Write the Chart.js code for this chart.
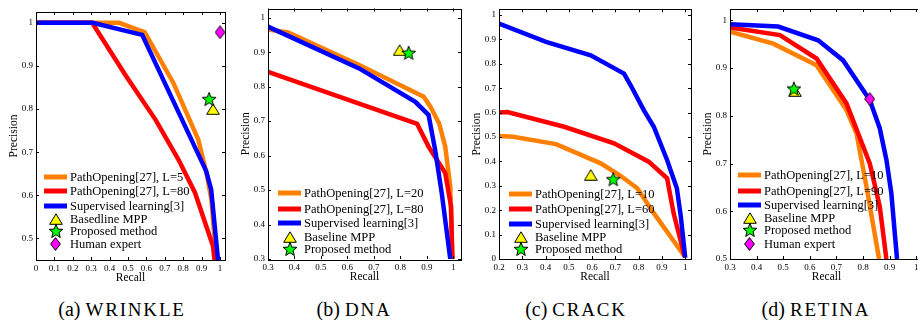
<!DOCTYPE html>
<html>
<head>
<meta charset="utf-8">
<script src="https://cdn.jsdelivr.net/npm/chart.js@4.4.1/dist/chart.umd.min.js"></script>
<style>
  html, body { margin: 0; padding: 0; background: #fff; }
  body { width: 918px; height: 320px; overflow: hidden; position: relative; }
  canvas { position: absolute; top: 0; }
  .cap { position: absolute; top: 299px; font-family: "Liberation Serif", serif; font-size: 20px;
         line-height: 1; white-space: nowrap; transform: translateX(-50%); color: #000; }
  .cap span { font-size: 19px; letter-spacing: 1.8px; }
</style>
</head>
<body>
<div class="cap" style="left:122px">(a) <span>WRINKLE</span></div>
<div class="cap" style="left:354px">(b) <span>DNA</span></div>
<div class="cap" style="left:576px">(c) <span>CRACK</span></div>
<div class="cap" style="left:816px">(d) <span>RETINA</span></div>
<script>
// --- data: [recall, precision] pairs ---

// (a) wrinkle
const wrinkleL5  = [[0, 1], [0.452, 1], [0.591, 0.978], [0.747, 0.86], [0.882, 0.729], [0.926, 0.652], [0.953, 0.59], [0.98, 0.45]];
const wrinkleL80 = [[0, 1], [0.305, 1], [0.49, 0.876], [0.65, 0.775], [0.774, 0.683], [0.864, 0.606], [0.962, 0.482], [0.97, 0.45]];
const wrinkleSup = [[0, 1], [0.308, 1], [0.577, 0.972], [0.925, 0.656], [0.952, 0.613], [0.989, 0.45]];
const wrinkleBaseline = [[0.962, 0.80]];
const wrinkleProposed = [[0.941, 0.823]];
const wrinkleHuman    = [[1.0, 0.978]];
const wrinkleXTicks = [0, 0.1, 0.2, 0.3, 0.4, 0.5, 0.6, 0.7, 0.8, 0.9, 1];
const wrinkleYTicks = [0.5, 0.6, 0.7, 0.8, 0.9, 1];

// (b) dna
const dnaL20 = [[0.3, 0.966], [0.376, 0.957], [0.644, 0.863], [0.888, 0.771], [0.913, 0.742], [0.946, 0.693], [0.969, 0.626], [0.988, 0.51], [0.996, 0.3]];
const dnaL80 = [[0.3, 0.843], [0.863, 0.692], [0.906, 0.626], [0.938, 0.587], [0.969, 0.549], [0.991, 0.452], [0.996, 0.3]];
const dnaSup = [[0.3, 0.974], [0.644, 0.853], [0.856, 0.756], [0.906, 0.718], [0.931, 0.616], [0.956, 0.49], [0.988, 0.3]];
const dnaBaseline = [[0.797, 0.906]];
const dnaProposed = [[0.831, 0.898]];
const dnaXTicks = [0.3, 0.4, 0.5, 0.6, 0.7, 0.8, 0.9, 1];
const dnaYTicks = [0.3, 0.4, 0.5, 0.6, 0.7, 0.8, 0.9, 1];

// (c) crack
const crackL10 = [[0.2, 0.504], [0.26, 0.501], [0.445, 0.471], [0.637, 0.392], [0.722, 0.341], [0.794, 0.29], [0.865, 0.188], [0.997, 0.011]];
const crackL60 = [[0.2, 0.6], [0.236, 0.602], [0.48, 0.542], [0.694, 0.474], [0.843, 0.399], [0.922, 0.331], [0.95, 0.188], [0.997, 0.011]];
const crackSup = [[0.2, 0.965], [0.402, 0.89], [0.594, 0.835], [0.737, 0.76], [0.765, 0.713], [0.822, 0.61], [0.865, 0.542], [0.922, 0.406], [0.964, 0.29], [0.981, 0.174], [1.0, 0.005]];
const crackBaseline = [[0.594, 0.345]];
const crackProposed = [[0.691, 0.327]];
const crackXTicks = [0.2, 0.3, 0.4, 0.5, 0.6, 0.7, 0.8, 0.9, 1];
const crackYTicks = [0, 0.1, 0.2, 0.3, 0.4, 0.5, 0.6, 0.7, 0.8, 0.9, 1];

// (d) retina
const retinaL10 = [[0.3, 0.976], [0.4625, 0.951], [0.625, 0.906], [0.7375, 0.812], [0.775, 0.763], [0.8125, 0.652], [0.86, 0.5]];
const retinaL90 = [[0.3, 0.985], [0.4875, 0.969], [0.625, 0.92], [0.7375, 0.826], [0.825, 0.70], [0.8625, 0.61], [0.8875, 0.5]];
const retinaSup = [[0.3, 0.992], [0.481, 0.987], [0.631, 0.958], [0.725, 0.916], [0.825, 0.833], [0.8625, 0.774], [0.8875, 0.708], [0.906, 0.638], [0.919, 0.554], [0.9275, 0.5]];
const retinaBaseline = [[0.544, 0.852]];
const retinaProposed = [[0.54, 0.857]];
const retinaHuman    = [[0.825, 0.835]];
const retinaXTicks = [0.3, 0.4, 0.5, 0.6, 0.7, 0.8, 0.9, 1];
const retinaYTicks = [0.5, 0.6, 0.7, 0.8, 0.9, 1];

const ORANGE = 'rgb(255,128,0)', RED = 'rgb(255,0,0)', BLUE = 'rgb(0,0,255)';
const FONT = '"Liberation Serif", "Times New Roman", serif';

// marker glyphs (matlab style, black outline)
function glyph(w, h, pts, fill) {
  const c = document.createElement('canvas');
  c.width = w; c.height = h;
  const g = c.getContext('2d');
  g.beginPath();
  pts.forEach(([x, y], i) => i ? g.lineTo(x, y) : g.moveTo(x, y));
  g.closePath();
  g.fillStyle = fill; g.fill();
  g.lineWidth = 1; g.strokeStyle = '#000'; g.lineJoin = 'miter'; g.stroke();
  return c;
}
const triImg = glyph(14, 12, [[7, 0.8], [13.3, 11.3], [0.7, 11.3]], '#ffff00');
const starPts = [];
for (let i = 0; i < 10; i++) {
  const r = i % 2 ? 3.1 : 7.3, a = -Math.PI / 2 + i * Math.PI / 5;
  starPts.push([8 + r * Math.cos(a), 8.6 + r * Math.sin(a)]);
}
const starImg = glyph(16, 16, starPts, '#00ff00');
const diaImg = glyph(11, 14, [[5.5, 0.6], [10.4, 7], [5.5, 13.4], [0.6, 7]], '#ff00ff');

const toXY = arr => arr.map(([x, y]) => ({ x, y }));

function lineSet(label, arr, color, order) {
  return { label, data: toXY(arr), borderColor: color, borderWidth: 4.5, pointRadius: 0,
           tension: 0, fill: false, clip: 0, borderJoinStyle: 'miter', order };
}
function markSet(label, arr, img, order) {
  return { label, data: toXY(arr), showLine: false, pointStyle: img, pointRadius: 7,
           clip: false, order };
}

const panels = [
  { id: 'a', area: { l: 36, r: 227, t: 12, b: 260 }, x: [0, 1.027], y: [0.45, 1.025],
    xTicks: wrinkleXTicks, yTicks: wrinkleYTicks, legendDx: 8, rows: [177, 191, 206, 219, 231, 244],
    sets: [
      lineSet('PathOpening[27], L=5', wrinkleL5, ORANGE, 6),
      lineSet('PathOpening[27], L=80', wrinkleL80, RED, 5),
      lineSet('Supervised learning[3]', wrinkleSup, BLUE, 4),
      markSet('Basedline MPP', wrinkleBaseline, triImg, 3),
      markSet('Proposed method', wrinkleProposed, starImg, 1),
      markSet('Human expert', wrinkleHuman, diaImg, 2)
    ] },
  { id: 'b', area: { l: 268, r: 462.5, t: 8.5, b: 259 }, x: [0.3, 1.0285], y: [0.3, 1.0267],
    xTicks: dnaXTicks, yTicks: dnaYTicks, legendDx: 10, rows: [193, 209, 223, 237, 249],
    sets: [
      lineSet('PathOpening[27], L=20', dnaL20, ORANGE, 6),
      lineSet('PathOpening[27], L=80', dnaL80, RED, 5),
      lineSet('Supervised learning[3]', dnaSup, BLUE, 4),
      markSet('Baseline MPP', dnaBaseline, triImg, 3),
      markSet('Proposed method', dnaProposed, starImg, 1)
    ] },
  { id: 'c', area: { l: 499, r: 692.5, t: 9.3, b: 259 }, x: [0.2, 1.0248], y: [0, 1.0233],
    xTicks: crackXTicks, yTicks: crackYTicks, legendDx: 10, rows: [194, 209, 224, 237, 249],
    sets: [
      lineSet('PathOpening[27], L=10', crackL10, ORANGE, 6),
      lineSet('PathOpening[27], L=60', crackL60, RED, 5),
      lineSet('Supervised learning[3]', crackSup, BLUE, 4),
      markSet('Baseline MPP', crackBaseline, triImg, 3),
      markSet('Proposed method', crackProposed, starImg, 1)
    ] },
  { id: 'd', area: { l: 729.5, r: 923.7, t: 9, b: 259 }, x: [0.3, 1.025], y: [0.5, 1.0237],
    xTicks: retinaXTicks, yTicks: retinaYTicks, legendDx: 8, rows: [175, 191, 205, 218, 230, 244],
    sets: [
      lineSet('PathOpening[27], L=10', retinaL10, ORANGE, 6),
      lineSet('PathOpening[27], L=90', retinaL90, RED, 5),
      lineSet('Supervised learning[3]', retinaSup, BLUE, 4),
      markSet('Baseline MPP', retinaBaseline, triImg, 3),
      markSet('Proposed method', retinaProposed, starImg, 1),
      markSet('Human expert', retinaHuman, diaImg, 2)
    ] }
];

const Y_AXIS_W = 30, X_AXIS_H = 25, PAD_R = 6;

// box, inward ticks on all sides, legend inside the axes
function framePlugin(p) {
  return {
    id: 'frame_' + p.id,
    afterDraw(chart) {
      const ctx = chart.ctx, a = chart.chartArea;
      const xs = chart.scales.x, ys = chart.scales.y;
      ctx.save();
      ctx.strokeStyle = '#000';
      ctx.lineWidth = 1;
      ctx.beginPath();
      p.xTicks.forEach(v => {
        const px = Math.round(xs.getPixelForValue(v)) + 0.5;
        ctx.moveTo(px, a.bottom); ctx.lineTo(px, a.bottom - 3);
        ctx.moveTo(px, a.top); ctx.lineTo(px, a.top + 3);
      });
      p.yTicks.forEach(v => {
        const py = Math.round(ys.getPixelForValue(v)) + 0.5;
        ctx.moveTo(a.left, py); ctx.lineTo(a.left + 3, py);
        ctx.moveTo(a.right, py); ctx.lineTo(a.right - 3, py);
      });
      ctx.stroke();
      ctx.strokeRect(Math.round(a.left) + 0.5, Math.round(a.top) + 0.5,
                     Math.round(a.right - a.left), Math.round(a.bottom - a.top));

      // legend
      ctx.font = '12.5px ' + FONT;
      ctx.textBaseline = 'middle';
      ctx.textAlign = 'left';
      const lx = a.left + p.legendDx;
      chart.data.datasets.forEach((ds, i) => {
        const y = p.rows[i];
        if (ds.showLine === false) {
          const img = ds.pointStyle;
          ctx.drawImage(img, Math.round(lx + 11.5 - img.width / 2), Math.round(y - img.height / 2));
        } else {
          ctx.strokeStyle = ds.borderColor;
          ctx.lineWidth = 5;
          ctx.beginPath();
          ctx.moveTo(lx, y); ctx.lineTo(lx + 23, y);
          ctx.stroke();
        }
        ctx.fillStyle = '#000';
        ctx.fillText(ds.label, lx + 26, y + 0.5);
      });
      ctx.restore();
    }
  };
}

Chart.defaults.font.family = FONT;
Chart.defaults.color = '#000';

panels.forEach(p => {
  const cv = document.createElement('canvas');
  const w = (p.area.r - p.area.l) + Y_AXIS_W + PAD_R;
  const h = p.area.b + X_AXIS_H;
  cv.width = Math.ceil(w);
  cv.height = Math.ceil(h);
  cv.style.left = (p.area.l - Y_AXIS_W) + 'px';
  cv.style.width = cv.width + 'px';
  cv.style.height = cv.height + 'px';
  document.body.appendChild(cv);

  const fmt = v => String(v);

  new Chart(cv.getContext('2d'), {
    type: 'line',
    data: { datasets: p.sets },
    options: {
      responsive: false,
      animation: false,
      devicePixelRatio: 1,
      events: [],
      layout: { padding: { left: 0, top: p.area.t, right: cv.width - w + PAD_R, bottom: cv.height - h } },
      plugins: { legend: { display: false }, tooltip: { enabled: false } },
      scales: {
        x: {
          type: 'linear', min: p.x[0], max: p.x[1],
          grid: { display: false, drawTicks: false },
          border: { display: false },
          afterBuildTicks: s => { s.ticks = p.xTicks.map(v => ({ value: v })); },
          afterFit: s => { s.height = X_AXIS_H; },
          ticks: { autoSkip: false, maxRotation: 0, padding: 3, font: { size: 9 }, callback: fmt },
          title: { display: true, text: 'Recall', font: { size: 11.5 }, padding: 0 }
        },
        y: {
          type: 'linear', min: p.y[0], max: p.y[1],
          grid: { display: false, drawTicks: false },
          border: { display: false },
          afterBuildTicks: s => { s.ticks = p.yTicks.map(v => ({ value: v })); },
          afterFit: s => { s.width = Y_AXIS_W; },
          ticks: { autoSkip: false, padding: 3, font: { size: 9 }, callback: fmt },
          title: { display: true, text: 'Precision', font: { size: 11.5 }, padding: { top: 1, bottom: 0 } }
        }
      }
    },
    plugins: [framePlugin(p)]
  });
});
</script>
</body>
</html>
